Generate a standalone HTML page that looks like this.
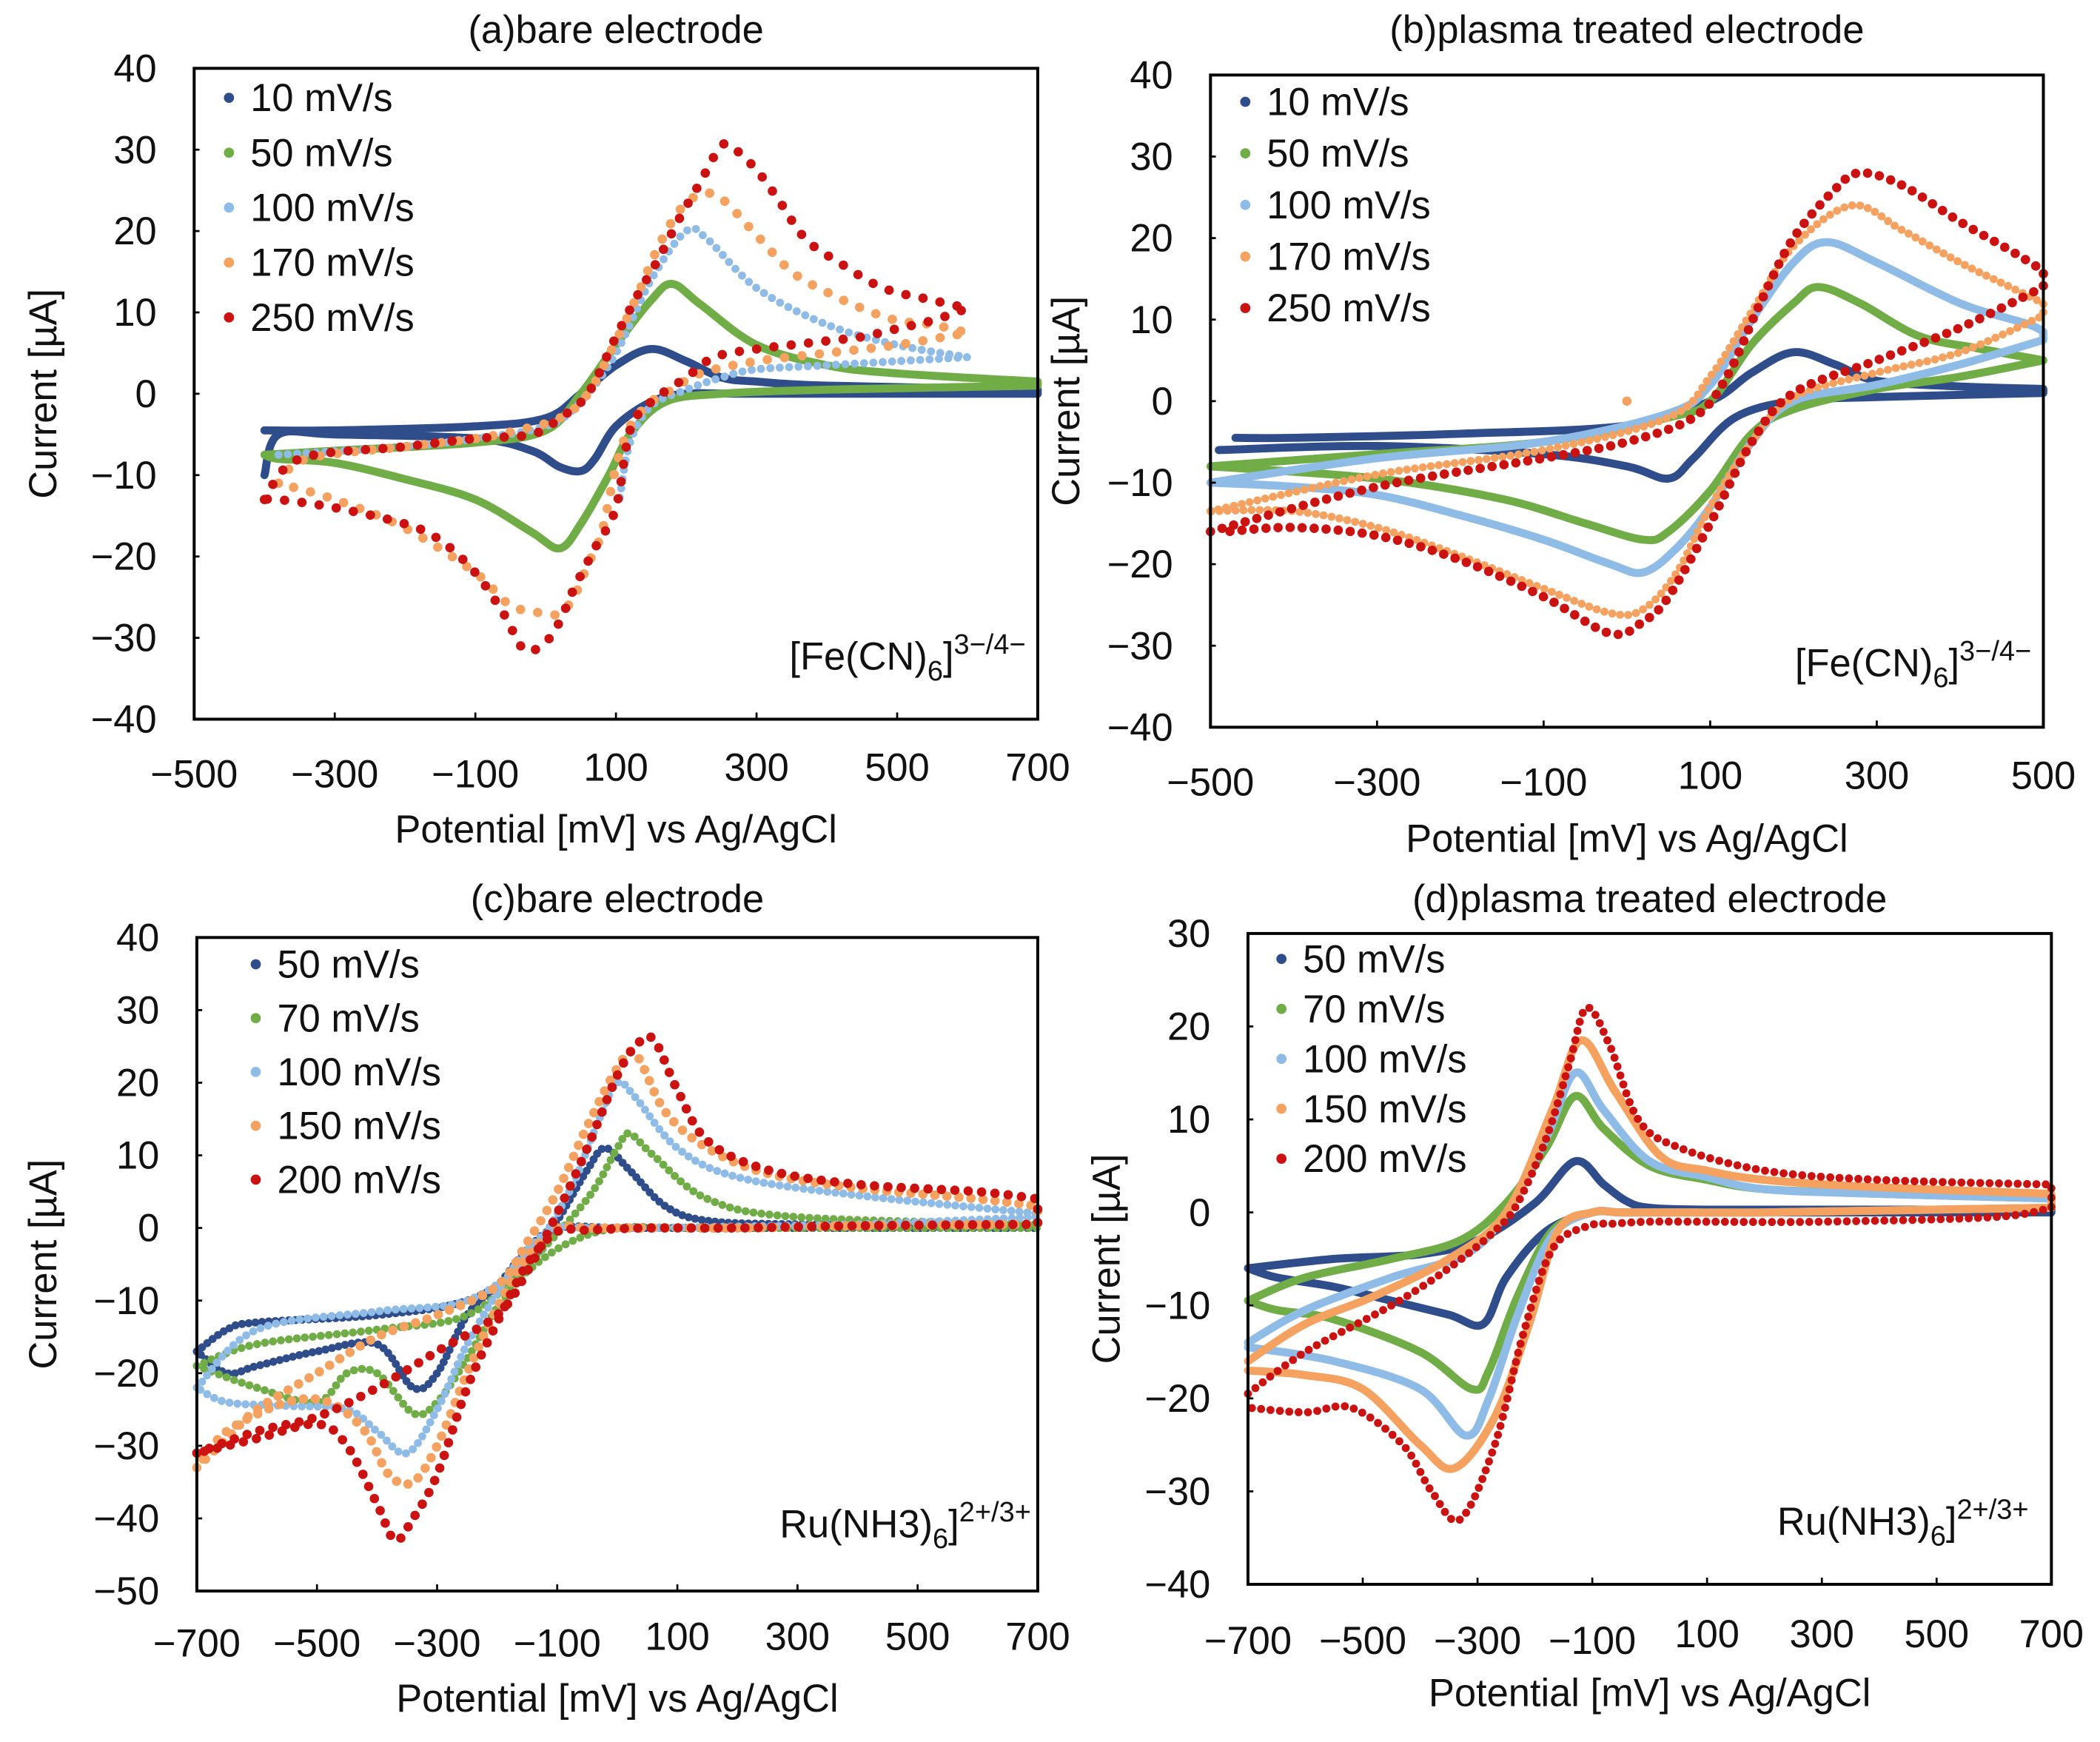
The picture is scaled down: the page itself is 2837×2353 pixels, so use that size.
<!DOCTYPE html>
<html><head><meta charset="utf-8"><style>
html,body{margin:0;padding:0;background:#fff;}
svg{display:block;font-family:"Liberation Sans",Arial,sans-serif;}
</style></head><body>
<svg id="fig" xmlns="http://www.w3.org/2000/svg" width="2837" height="2353" viewBox="0 0 1568.3 1300.7"></svg>
<script>
// ---------- data (x: potential mV, y: current µA) ----------
const aLabels = ["10 mV/s","50 mV/s","100 mV/s","170 mV/s","250 mV/s"];
const a10 = [[-400,-4.5],[-300,-4.5],[-100,-4],[0,-3],[50,0],[100,3.5],[150,5.5],[200,4],[250,2],[300,1.5],[400,1],[700,0.5],[700,0],[300,0],[200,0],[150,-1],[100,-4],[70,-8],[50,-9.5],[20,-9],[-20,-7],[-100,-5.5],[-300,-5],[-380,-5],[-400,-10]];
const a50 = [[-400,-7.5],[-300,-7],[-100,-6],[0,-4.5],[50,0],[100,6],[150,11.5],[180,13.5],[220,11],[300,6],[400,3.5],[500,2.5],[700,1.5],[700,1],[400,0.5],[250,0],[170,-1],[120,-5],[90,-10],[50,-16],[20,-19],[-20,-17],[-100,-13],[-200,-10.5],[-300,-8.5],[-380,-8],[-400,-7.5]];
const a100 = [[-380,-7.5],[-200,-6.5],[-100,-5.5],[0,-4],[50,-1],[100,5],[150,14],[200,20],[230,19],[300,13],[400,8.5],[500,6],[600,4.5],[500,4],[400,3.5],[300,3],[250,2],[200,0.5],[150,-1.5],[120,-6],[105,-13]];
const a170 = [[-380,-11],[-340,-8],[-200,-6.5],[-100,-5.5],[-40,-4.5],[20,-3],[60,0],[100,6.5],[130,12],[160,18],[190,22.5],[220,24.5],[250,24],[300,19.5],[350,15],[400,12.5],[450,10.5],[500,9],[550,8.5],[600,7.5],[500,6],[400,5],[300,4],[220,2.5],[180,0.5],[150,-1],[120,-4],[100,-9],[80,-17],[60,-21],[40,-25],[20,-27],[0,-27],[-50,-26],[-100,-22],[-200,-16.5],[-300,-13],[-380,-11]];
const a250 = [[-400,-13],[-350,-8],[-200,-6.5],[-100,-5.5],[-20,-5],[20,-3],[60,0],[100,7],[130,12],[160,16.5],[190,21.5],[220,26],[250,30.5],[270,30],[300,27.5],[330,24],[370,19],[420,16],[480,13],[550,11.5],[600,10.5],[550,9],[500,8],[450,7],[400,6.5],[350,6],[300,5.5],[240,4.5],[200,2],[150,-1],[120,-4.5],[100,-14],[70,-19],[40,-24],[20,-28],[0,-30.5],[-30,-31.5],[-60,-27],[-100,-22],[-150,-18],[-200,-16],[-300,-14],[-380,-13],[-400,-13]];

const bLabels = ["10 mV/s","50 mV/s","100 mV/s","170 mV/s","250 mV/s"];
const b10 = [[-470,-4.5],[-400,-4.5],[-200,-4],[0,-3],[100,0],[150,3.5],[200,6],[250,4.5],[300,2.5],[400,1.8],[500,1.5],[500,1],[300,0.5],[200,0],[130,-2],[80,-7],[50,-9.5],[0,-8],[-100,-6.5],[-300,-5.5],[-490,-6]];
const b50 = [[-500,-8],[-300,-6.5],[-100,-5],[50,-2],[100,0],[150,7],[200,12],[230,14],[280,12],[350,8],[420,6.5],[500,5],[400,3],[300,1.5],[200,-1],[150,-4],[100,-11],[50,-16],[20,-17],[-50,-15],[-150,-12],[-300,-9.5],[-500,-8]];
const b100 = [[-500,-10],[-300,-7],[-100,-5],[50,-1.5],[100,2],[150,10],[200,17],[240,19.5],[300,17],[400,12],[480,9.5],[500,8.5],[500,7.5],[400,4.5],[300,2],[200,0],[150,-5],[100,-13],[60,-18],[20,-21],[-20,-20],[-100,-17],[-200,-14],[-300,-11.5],[-400,-10.5],[-500,-10]];
const b170 = [[-500,-13.5],[-300,-9],[-100,-6],[50,-2],[100,3],[150,11],[200,19],[270,24],[330,21],[400,17],[460,14],[500,12],[500,10.5],[400,6],[300,3.5],[200,0.5],[150,-5],[100,-13],[60,-21],[20,-25.5],[-20,-26],[-100,-23],[-200,-19],[-300,-15.5],[-400,-13.5],[-500,-13.5]];
const b170stray = [[0,0]];
const b250 = [[-500,-16],[-300,-10.5],[-100,-7],[0,-5],[80,-2],[120,3],[160,12],[200,20],[250,26],[280,28],[330,26.5],[400,22],[460,18.5],[500,16],[500,14],[400,9],[300,5],[200,1],[150,-5],[100,-15],[50,-24],[20,-27],[-20,-28.5],[-100,-24],[-200,-19.5],[-300,-16.5],[-400,-15.5],[-480,-16]];

const cLabels = ["50 mV/s","70 mV/s","100 mV/s","150 mV/s","200 mV/s"];
const c50 = [[-700,-17],[-650,-14],[-600,-13],[-400,-12],[-250,-10],[-150,-5],[-100,1],[-50,8],[-20,11],[20,8],[80,3],[150,1],[300,0.5],[700,0.2],[700,0],[300,0],[100,0],[0,0],[-100,0],[-150,-3],[-200,-8],[-250,-12],[-300,-20],[-340,-22],[-400,-16],[-500,-17],[-600,-19],[-650,-20],[-700,-17]];
const c70 = [[-700,-19],[-600,-16],[-400,-14],[-250,-12],[-150,-5],[-50,4],[0,11],[20,13],[60,10],[150,4],[300,1.5],[700,0.5],[700,0],[400,0],[200,0],[100,0],[0,0],[-80,-2],[-150,-6],[-200,-11],[-250,-18],[-300,-24],[-340,-25.5],[-400,-20],[-450,-20],[-500,-24],[-600,-22],[-700,-19]];
const c100 = [[-700,-22],[-600,-14],[-400,-11.5],[-250,-10],[-150,-4],[-80,5],[-30,15],[0,20],[30,18],[100,11],[200,7],[400,4.5],[700,2],[700,1.5],[400,0.5],[200,0.2],[50,0],[-50,0],[-100,0],[-150,-3],[-200,-9],[-250,-16],[-300,-25],[-350,-31],[-400,-28],[-450,-25],[-550,-24.5],[-650,-24],[-700,-22]];
const c150 = [[-700,-33],[-650,-29],[-600,-25],[-500,-20],[-400,-15],[-300,-12],[-200,-8],[-150,-2],[-100,5],[-50,14],[0,22],[30,24],[80,16],[150,11],[250,7.5],[400,5.5],[600,4],[700,3],[700,0.5],[400,0.3],[200,0],[50,0],[-50,0],[-100,0],[-150,-4],[-200,-11],[-250,-20],[-300,-30],[-340,-35],[-380,-34],[-420,-28],[-480,-24],[-550,-24],[-650,-28],[-700,-33]];
const c200 = [[-700,-31],[-600,-28],[-500,-26],[-400,-22],[-300,-17],[-200,-12],[-150,-6],[-100,2],[-50,11],[0,21],[30,25],[60,26],[100,19],[150,12],[250,8],[400,6],[600,5],[700,4],[700,0.5],[400,0.3],[200,0],[50,0],[-50,-0.3],[-100,-0.5],[-150,-5],[-200,-13],[-250,-22],[-300,-34],[-340,-40],[-370,-43],[-400,-38],[-450,-30],[-500,-27],[-600,-29],[-700,-31]];

const dLabels = ["50 mV/s","70 mV/s","100 mV/s","150 mV/s","200 mV/s"];
const d50 = [[-700,-6],[-550,-5],[-400,-4.5],[-300,-3],[-200,1],[-130,5.5],[-80,3],[-40,1.2],[0,0.5],[100,0.3],[300,0.3],[700,0.3],[700,0],[400,0],[200,0],[50,0],[-50,0],[-100,0],[-180,-2],[-250,-7],[-290,-12],[-350,-11],[-450,-9.5],[-550,-8],[-650,-7],[-700,-6]];
const d70 = [[-700,-9.5],[-600,-7],[-450,-5],[-330,-3],[-250,1],[-180,7],[-130,12.5],[-80,9],[0,5],[100,3.5],[200,2.5],[400,2],[700,1.5],[700,0.5],[400,0.2],[200,0],[50,0],[-50,0],[-100,0],[-170,-2],[-230,-9],[-280,-17],[-310,-19],[-400,-15],[-550,-11.5],[-650,-10.5],[-700,-9.5]];
const d100 = [[-700,-14],[-600,-10.5],[-450,-7],[-320,-4.5],[-250,0],[-180,8],[-130,15],[-80,11],[0,5.5],[100,3.8],[200,2.5],[400,2],[700,1.5],[700,0.5],[400,0.2],[200,0],[50,0],[-50,0],[-100,0],[-170,-2.5],[-230,-11],[-280,-20],[-320,-24],[-400,-19],[-550,-16],[-700,-14.5]];
const d150 = [[-700,-16],[-600,-12],[-480,-9],[-350,-5],[-250,0],[-170,11],[-120,18.5],[-60,13],[20,6],[100,4.5],[200,3.5],[400,2.7],[700,2],[700,0.5],[400,0.2],[200,0],[50,0],[-50,0],[-100,0],[-160,-2],[-210,-12],[-270,-22],[-340,-27.5],[-400,-25],[-500,-19],[-600,-17.5],[-700,-17]];
const d200 = [[-700,-19.5],[-600,-15],[-450,-10],[-350,-6],[-270,-2],[-230,1],[-180,8],[-140,16],[-110,22],[-70,18],[-20,10],[50,7],[200,4.5],[400,3.5],[700,3],[700,0.5],[600,-0.5],[300,-1],[100,-1],[0,-1],[-60,-1.2],[-110,-1.5],[-170,-4],[-220,-13],[-270,-25],[-330,-33],[-380,-30],[-430,-25],[-520,-21],[-600,-21.5],[-700,-21]];

const aXTicks = [-500,-300,-100,100,300,500,700];
const aYTicks = [40,30,20,10,0,-10,-20,-30,-40];
const bXTicks = [-500,-300,-100,100,300,500];
const bYTicks = [40,30,20,10,0,-10,-20,-30,-40];
const cXTicks = [-700,-500,-300,-100,100,300,500,700];
const cYTicks = [40,30,20,10,0,-10,-20,-30,-40,-50];
const dXTicks = [-700,-500,-300,-100,100,300,500,700];
const dYTicks = [30,20,10,0,-10,-20,-30,-40];

// ---------- drawing ----------
const NS = "http://www.w3.org/2000/svg";
const svg = document.getElementById("fig");
const COLORS = ["#2f4d8a","#70ad47","#8fbce6","#f5a15f","#cc1111"];
const FS = 29;
function mk(tag, attrs, parent){
  const e = document.createElementNS(NS, tag);
  for (const k in attrs) e.setAttribute(k, attrs[k]);
  (parent||svg).appendChild(e);
  return e;
}
function f2(v){return v.toFixed(2);}
function smoothPath(pts){
  if (pts.length === 1) return "M"+f2(pts[0][0])+","+f2(pts[0][1])+"l0,0";
  const sgn = i => Math.sign(pts[i+1][0]-pts[i][0]);
  let d = "M"+f2(pts[0][0])+","+f2(pts[0][1]);
  for (let i=0;i<pts.length-1;i++){
    const p1=pts[i], p2=pts[i+1], s=sgn(i);
    if (s===0){ d += " L"+f2(p2[0])+","+f2(p2[1]); continue; }
    const p0 = (i>0 && sgn(i-1)===s) ? pts[i-1] : p1;
    const p3 = (i+2<pts.length && sgn(i+1)===s) ? pts[i+2] : p2;
    const c1=[p1[0]+(p2[0]-p0[0])/6, p1[1]+(p2[1]-p0[1])/6];
    const c2=[p2[0]-(p3[0]-p1[0])/6, p2[1]-(p3[1]-p1[1])/6];
    d += " C"+f2(c1[0])+","+f2(c1[1])+" "+f2(c2[0])+","+f2(c2[1])+" "+f2(p2[0])+","+f2(p2[1]);
  }
  return d;
}
function panel(cfg){
  const g = mk("g", {});
  
  
  const sx = v => cfg.L + (v-cfg.xmin)/(cfg.xmax-cfg.xmin)*(cfg.R-cfg.L);
  const sy = v => cfg.B - (v-cfg.ymin)/(cfg.ymax-cfg.ymin)*(cfg.B-cfg.T);
  const t = mk("text", {x:(cfg.L+cfg.R)/2, y:cfg.titleY, "font-size":FS, "text-anchor":"middle", fill:"#111"}, g);
  
  
  t.textContent = cfg.title;
  cfg.series.forEach((s,i)=>{
    const pts = s.data.map(p=>[sx(p[0]), sy(p[1])]);
    const p = mk("path", {d:smoothPath(pts), fill:"none", stroke:COLORS[s.c], "stroke-width":s.w||6, "stroke-linecap":"round", "stroke-linejoin":"round"}, g);
    if (s.dash) p.setAttribute("stroke-dasharray", "0 "+s.dash);
    
    
  });
  const f = mk("rect", {x:cfg.L, y:cfg.T, width:cfg.R-cfg.L, height:cfg.B-cfg.T, fill:"none", stroke:"#000", "stroke-width":2.2}, g);
  
  
  cfg.yTicks.forEach(v=>{
    const tl = mk("text", {x:cfg.L-cfg.yLabOff, y:sy(v)+10, "font-size":FS, "text-anchor":"end", fill:"#111"}, g);
    
    
    tl.textContent = v<0 ? "\u2212"+Math.abs(v) : String(v);
    const tk = mk("line", {x1:cfg.L, x2:cfg.L+4, y1:sy(v), y2:sy(v), stroke:"#000", "stroke-width":1.5}, g);
    
    
  });
  cfg.xTicks.forEach(v=>{
    const tl = mk("text", {x:sx(v), y:cfg.xLabY + (v>0?-5:0), "font-size":FS, "text-anchor":"middle", fill:"#111"}, g);
    
    
    tl.textContent = v<0 ? "\u2212"+Math.abs(v) : String(v);
    const tk = mk("line", {x1:sx(v), x2:sx(v), y1:cfg.B, y2:cfg.B-5, stroke:"#000", "stroke-width":1.5}, g);
    
    
  });
  const xt = mk("text", {x:(cfg.L+cfg.R)/2, y:cfg.xTitleY, "font-size":FS, "text-anchor":"middle", fill:"#111"}, g);
  
  
  xt.textContent = "Potential [mV] vs Ag/AgCl";
  const yt = mk("text", {x:0, y:0, "font-size":FS, "text-anchor":"middle", fill:"#111", transform:"translate("+cfg.yTitleX+","+((cfg.T+cfg.B)/2)+") rotate(-90)"}, g);
  
  
  yt.textContent = "Current [\u00b5A]";
  cfg.labels.forEach((lab,i)=>{
    const y = cfg.legY + i*cfg.legStep;
    const dot = mk("circle", {cx:cfg.legX, cy:y, r:3.8, fill:COLORS[i]}, g);
    
    
    const lt = mk("text", {x:cfg.legX+16, y:y+10, "font-size":FS, fill:"#111"}, g);
    
    
    lt.textContent = lab;
  });
  const an = mk("text", {x:cfg.annX, y:cfg.annY, "font-size":FS, "text-anchor":"end", fill:"#111"}, g);
  
  
  const s1 = mk("tspan", {}, an); s1.textContent = cfg.ann[0];
  const s2 = mk("tspan", {dy:8, "font-size":21}, an); s2.textContent = "6";
  const s3 = mk("tspan", {dy:-8}, an); s3.textContent = "]";
  const s4 = mk("tspan", {dy:-12, "font-size":21}, an); s4.textContent = cfg.ann[1];
}

panel({id:"panel-a", title:"(a)bare electrode", titleY:32,
  L:145, R:775, T:51, B:537, xmin:-500, xmax:700, ymin:-40, ymax:40,
  xTicks:aXTicks, yTicks:aYTicks, yLabOff:28, xLabY:588, xTitleY:629, yTitleX:42,
  labels:aLabels, legX:171, legY:73, legStep:41, annX:766, annY:500, ann:["[Fe(CN)","3\u2212/4\u2212"],
  series:[{name:"10",data:a10,c:0,w:6},{name:"50",data:a50,c:1,w:6},{name:"100",data:a100,c:2,w:6,dash:7},{name:"170",data:a170,c:3,w:7,dash:13},{name:"250",data:a250,c:4,w:7,dash:13}]});

panel({id:"panel-b", title:"(b)plasma treated electrode", titleY:32,
  L:904, R:1526, T:56, B:543, xmin:-500, xmax:500, ymin:-40, ymax:40,
  xTicks:bXTicks, yTicks:bYTicks, yLabOff:28, xLabY:594, xTitleY:636, yTitleX:806,
  labels:bLabels, legX:930, legY:76, legStep:38.5, annX:1517, annY:505, ann:["[Fe(CN)","3\u2212/4\u2212"],
  series:[{name:"10",data:b10,c:0,w:6},{name:"50",data:b50,c:1,w:6},{name:"100",data:b100,c:2,w:6},{name:"170",data:b170,c:3,w:6,dash:6},{name:"170-stray",data:b170stray,c:3,w:7},{name:"250",data:b250,c:4,w:7,dash:9}]});

panel({id:"panel-c", title:"(c)bare electrode", titleY:681,
  L:147, R:775, T:700, B:1188, xmin:-700, xmax:700, ymin:-50, ymax:40,
  xTicks:cXTicks, yTicks:cYTicks, yLabOff:28, xLabY:1237, xTitleY:1278, yTitleX:42,
  labels:cLabels, legX:191, legY:720, legStep:40.2, annX:770, annY:1148, ann:["Ru(NH3)","2+/3+"],
  series:[{name:"50",data:c50,c:0,w:6,dash:5},{name:"70",data:c70,c:1,w:6,dash:6},{name:"100",data:c100,c:2,w:6,dash:6},{name:"150",data:c150,c:3,w:7,dash:9},{name:"200",data:c200,c:4,w:7,dash:10}]});

panel({id:"panel-d", title:"(d)plasma treated electrode", titleY:681,
  L:932, R:1532, T:697, B:1183, xmin:-700, xmax:700, ymin:-40, ymax:30,
  xTicks:dXTicks, yTicks:dYTicks, yLabOff:28, xLabY:1235, xTitleY:1274, yTitleX:836,
  labels:dLabels, legX:957, legY:716, legStep:37.3, annX:1515, annY:1146, ann:["Ru(NH3)","2+/3+"],
  series:[{name:"50",data:d50,c:0,w:6},{name:"70",data:d70,c:1,w:6},{name:"100",data:d100,c:2,w:6},{name:"150",data:d150,c:3,w:6},{name:"200",data:d200,c:4,w:6,dash:7}]});
</script>
</body></html>
